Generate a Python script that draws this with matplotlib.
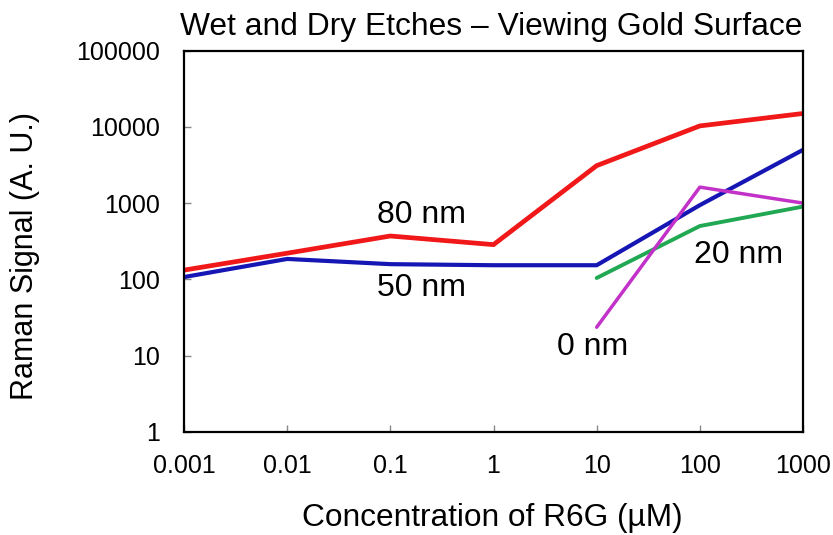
import matplotlib.pyplot as plt
from matplotlib.ticker import FixedLocator, FixedFormatter, NullLocator

# R6G concentration (uM) and Raman signal for each etch depth
conc = [0.001, 0.01, 0.1, 1, 10, 100, 1000]
signal_80nm = [132, 220, 370, 285, 3100, 10300, 15000]
signal_50nm = [107, 185, 158, 153, 153, 940, 5000]

conc_hi = [10, 100, 1000]
signal_20nm = [104, 500, 900]
signal_0nm = [23.5, 1620, 1000]

xticks = [0.001, 0.01, 0.1, 1, 10, 100, 1000]
xticklabels = ['0.001', '0.01', '0.1', '1', '10', '100', '1000']
yticks = [1, 10, 100, 1000, 10000, 100000]
yticklabels = ['1', '10', '100', '1000', '10000', '100000']

plt.rcParams['font.family'] = ['Liberation Sans', 'DejaVu Sans']

W, H = 833, 535
fig = plt.figure(figsize=(W / 100, H / 100), dpi=100)
ax = fig.add_axes([184 / W, 1 - 431.7 / H, (803 - 184) / W, (431.7 - 50.7) / H])

ax.plot(conc, signal_80nm, color='#f01818', lw=3.4, solid_joinstyle='miter')
ax.plot(conc, signal_50nm, color='#1616b4', lw=3.0, solid_joinstyle='miter')
ax.plot(conc_hi, signal_20nm, color='#20a852', lw=2.8, solid_capstyle='round')
ax.plot(conc_hi, signal_0nm, color='#c232c8', lw=2.5, solid_capstyle='round')

ax.set_xscale('log')
ax.set_yscale('log')
ax.set_xlim(0.001, 1000)
ax.set_ylim(1, 100000)

ax.xaxis.set_major_locator(FixedLocator(xticks))
ax.xaxis.set_major_formatter(FixedFormatter(xticklabels))
ax.yaxis.set_major_locator(FixedLocator(yticks))
ax.yaxis.set_major_formatter(FixedFormatter(yticklabels))
ax.xaxis.set_minor_locator(NullLocator())
ax.yaxis.set_minor_locator(NullLocator())

ax.tick_params(direction='in', length=5, width=1, color='#888888',
               labelsize=18, pad=16)
ax.tick_params(axis='y', pad=17)
for sp in ax.spines.values():
    sp.set_linewidth(1.6)

# series labels placed next to each curve
ax.text(0.2, 700, '80 nm', fontsize=23, ha='center', va='center')
ax.text(0.2, 76, '50 nm', fontsize=23, ha='center', va='center')
ax.text(240, 210, '20 nm', fontsize=23, ha='center', va='center')
ax.text(9.1, 13, '0 nm', fontsize=23, ha='center', va='center')

fig.text(491 / W, 1 - 35 / H, 'Wet and Dry Etches \u2013 Viewing Gold Surface',
         fontsize=22.9, ha='center', va='baseline')
fig.text(492 / W, 1 - 526 / H, 'Concentration of R6G (\u00b5M)',
         fontsize=22.8, ha='center', va='baseline')
fig.text(25 / W, 1 - 256 / H, 'Raman Signal (A. U.)', fontsize=22,
         rotation=90, ha='center', va='center')

fig.savefig('out.png', dpi=100)
